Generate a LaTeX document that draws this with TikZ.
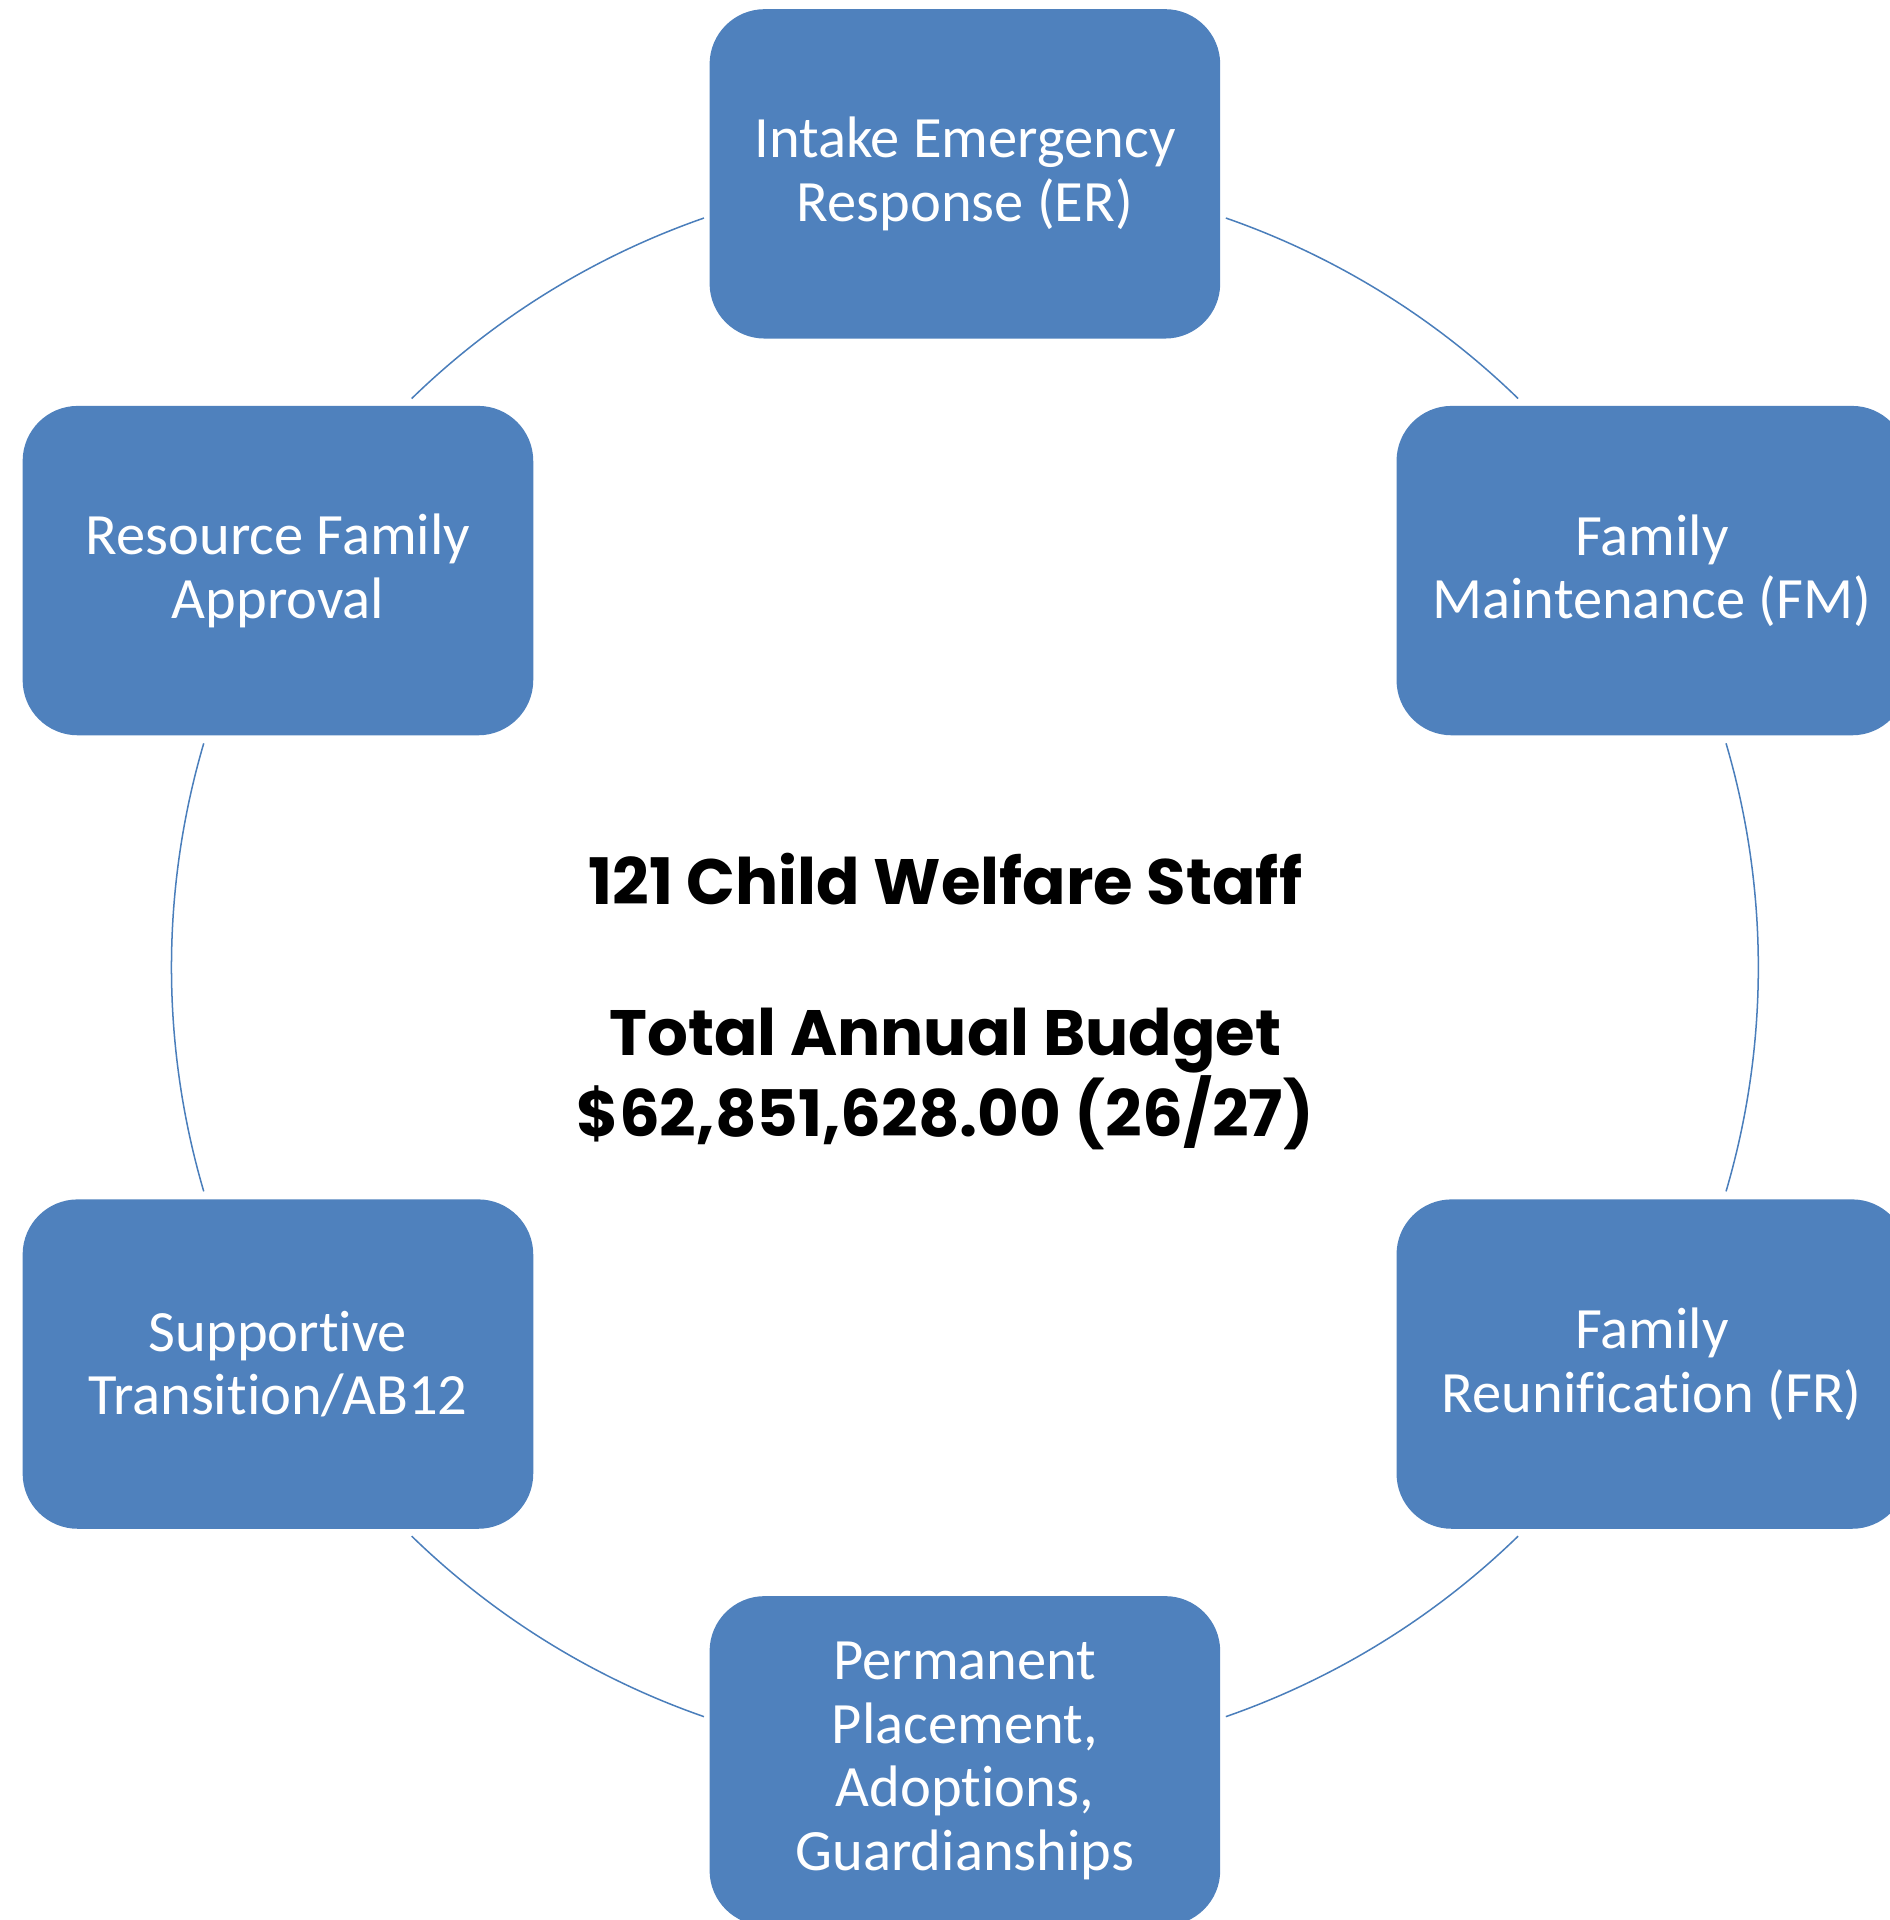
\documentclass[tikz,border=0pt]{standalone}
\usepackage{fontspec}
\setmainfont[Ligatures=CommonOff]{Carlito}
\newfontfamily\popfont{Poppins}
\definecolor{boxblue}{HTML}{4F81BD}
\definecolor{ringblue}{HTML}{4A7EBB}
\tikzset{
  unit/.style={fill=boxblue, rounded corners=0.9cm, minimum width=8.34cm,
    minimum height=5.38cm, inner sep=0pt, align=center, text=white,
    font=\fontsize{27.2}{29.6}\selectfont},
  ring/.style={draw=ringblue, line width=0.7pt}
}
\begin{document}
\begin{tikzpicture}
\useasboundingbox (-15.76,-15.56) rectangle (15.10,15.80);
\coordinate (c) at (0,0);

\draw[ring] (c) ++(45.8:12.96) arc (45.8:70.8:12.96);
\draw[ring] (c) ++(109.2:12.96) arc (109.2:134.2:12.96);
\draw[ring] (c) ++(163.6:12.96) arc (163.6:196.4:12.96);
\draw[ring] (c) ++(225.8:12.96) arc (225.8:250.8:12.96);
\draw[ring] (c) ++(289.2:12.96) arc (289.2:314.2:12.96);
\draw[ring] (c) ++(343.6:12.96) arc (343.6:376.4:12.96);

\node[unit] (er) at (0,12.96) {Intake Emergency\\Response (ER)};
\node[unit] (fm) at (11.22,6.48) {Family\\Maintenance (FM)};
\node[unit] (fr) at (11.22,-6.48) {Family\\Reunification (FR)};
\node[unit] (pp) at (0,-12.96) {Permanent\\Placement,\\Adoptions,\\Guardianships};
\node[unit] (st) at (-11.22,-6.48) {Supportive\\Transition/AB12};
\node[unit] (rf) at (-11.22,6.48) {Resource Family\\Approval};

\node[align=center, font=\popfont\bfseries\fontsize{29.8}{35}\selectfont] (staff) at (-0.32,-0.56)
  {121 Child Welfare Staff\\[35pt]Total Annual Budget\\\$62,851,628.00 (26/27)};
\end{tikzpicture}
\end{document}
